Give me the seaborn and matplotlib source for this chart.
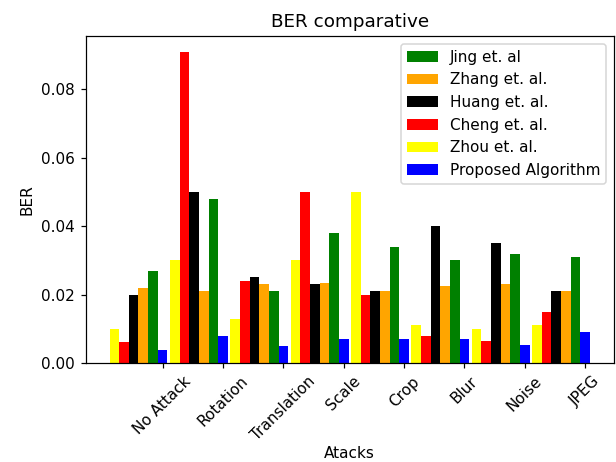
import numpy as np
import pandas as pd
import matplotlib
matplotlib.use("Agg")
import matplotlib.pyplot as plt
import seaborn as sns

attacks = ['No Attack', 'Rotation', 'Translation', 'Scale', 'Crop', 'Blur', 'Noise', 'JPEG']
jing = [0.027, 0.048, 0.021, 0.038, 0.034, 0.030, 0.032, 0.031]
zhang = [0.022, 0.021, 0.023, 0.0235, 0.021, 0.0225, 0.023, 0.021]
huang = [0.020, 0.050, 0.025, 0.023, 0.021, 0.040, 0.035, 0.021]
cheng = [0.006, 0.091, 0.024, 0.050, 0.020, 0.008, 0.0063, 0.015]
zhou = [0.010, 0.030, 0.013, 0.030, 0.050, 0.011, 0.010, 0.011]
proposed = [0.0037, 0.008, 0.005, 0.007, 0.007, 0.007, 0.0054, 0.009]

methods = ['Jing et. al', 'Zhang et. al.', 'Huang et. al.', 'Cheng et. al.', 'Zhou et. al.', 'Proposed Algorithm']
series = [jing, zhang, huang, cheng, zhou, proposed]
colors = ['green', 'orange', 'black', 'red', 'yellow', 'blue']

rows = []
for m, vals in zip(methods, series):
    for a, v in zip(attacks, vals):
        rows.append({'Attack': a, 'BER': v, 'Method': m})
df = pd.DataFrame(rows)

plt.rcParams['font.size'] = 10
fig = plt.figure(figsize=(5.6, 4.2), dpi=110)
ax = fig.add_axes([85.5 / 616, 1 - 363 / 462, (614 - 85.5) / 616, (363 - 36) / 462])

draw_order = ['Zhou et. al.', 'Cheng et. al.', 'Huang et. al.', 'Zhang et. al.', 'Jing et. al', 'Proposed Algorithm']
palette = dict(zip(methods, colors))
sns.barplot(data=df, x='Attack', y='BER', hue='Method', hue_order=draw_order,
            order=attacks, palette=palette, saturation=1, width=0.96, errorbar=None,
            linewidth=0, ax=ax)

n = len(attacks)
ax.set_xticks(np.arange(n) + 0.4)
ax.set_xticklabels(attacks, rotation=45)
ax.set_xlim(-0.878, n - 1 + 0.878)
ax.set_ylim(0, 0.0956)
ax.set_yticks([0.0, 0.02, 0.04, 0.06, 0.08])
ax.set_yticklabels(['0.00', '0.02', '0.04', '0.06', '0.08'])
ax.set_xlabel('Atacks', labelpad=1.5)
ax.set_ylabel('BER')
ax.set_title('BER comparative')

handles, labels = ax.get_legend_handles_labels()
hmap = dict(zip(labels, handles))
ax.legend([hmap[m] for m in methods], methods, loc='upper right')

fig.savefig('out.png', dpi=110)
